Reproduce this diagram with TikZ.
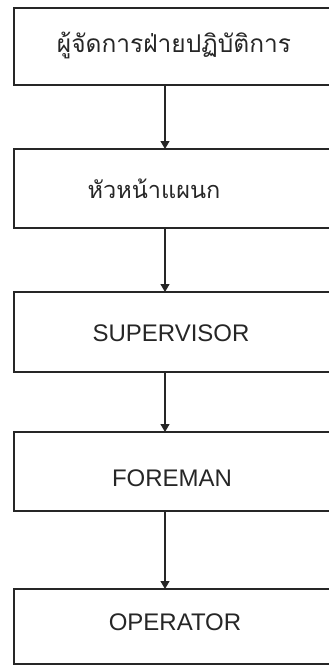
\documentclass[tikz,border=0pt]{standalone}
\usepackage{fontspec}
\setmainfont{Liberation Sans}
\newfontfamily\thaifont[Script=Thai]{Loma}
\usetikzlibrary{arrows.meta}
\begin{document}
\begin{tikzpicture}[x=1pt,y=-1pt,
  boxstyle/.style={draw=black!85, line width=1.4pt},
  lbl/.style={font=\fontsize{24}{26}\selectfont, text=black!85},
  thailbl/.style={font=\thaifont\fontsize{#1}{28}\selectfont, text=black!85},
  arr/.style={draw=black!85, line width=1.1pt, -{Triangle[length=8pt,width=9pt]}}]
\useasboundingbox (0,0) rectangle (329,667);
\begin{scope}
\clip (0,0) rectangle (329,667);
\draw[boxstyle] (14,8) rectangle (345,85);
\draw[boxstyle] (14,149) rectangle (345,228);
\draw[boxstyle] (14,292) rectangle (345,372);
\draw[boxstyle] (14,432) rectangle (345,511);
\draw[boxstyle] (14,589) rectangle (345,664);
\end{scope}
\coordinate (b1s) at (165,85);
\coordinate (b2n) at (165,149);
\coordinate (b2s) at (165,228);
\coordinate (b3n) at (165,292);
\coordinate (b3s) at (165,372);
\coordinate (b4n) at (165,432);
\coordinate (b4s) at (165,511);
\coordinate (b5n) at (165,589);
\node[thailbl=24.5] (t1) at (174,45) {ผู้จัดการฝ่ายปฏิบัติการ};
\node[thailbl=23.5] (t2) at (154,189) {หัวหน้าแผนก};
\node[lbl] (t3) at (171,333) {SUPERVISOR};
\node[lbl] (t4) at (172,478) {FOREMAN};
\node[lbl] (t5) at (175,622) {OPERATOR};
\draw[arr] (b1s) -- (b2n);
\draw[arr] (b2s) -- (b3n);
\draw[arr] (b3s) -- (b4n);
\draw[arr] (b4s) -- (b5n);
\end{tikzpicture}
\end{document}
